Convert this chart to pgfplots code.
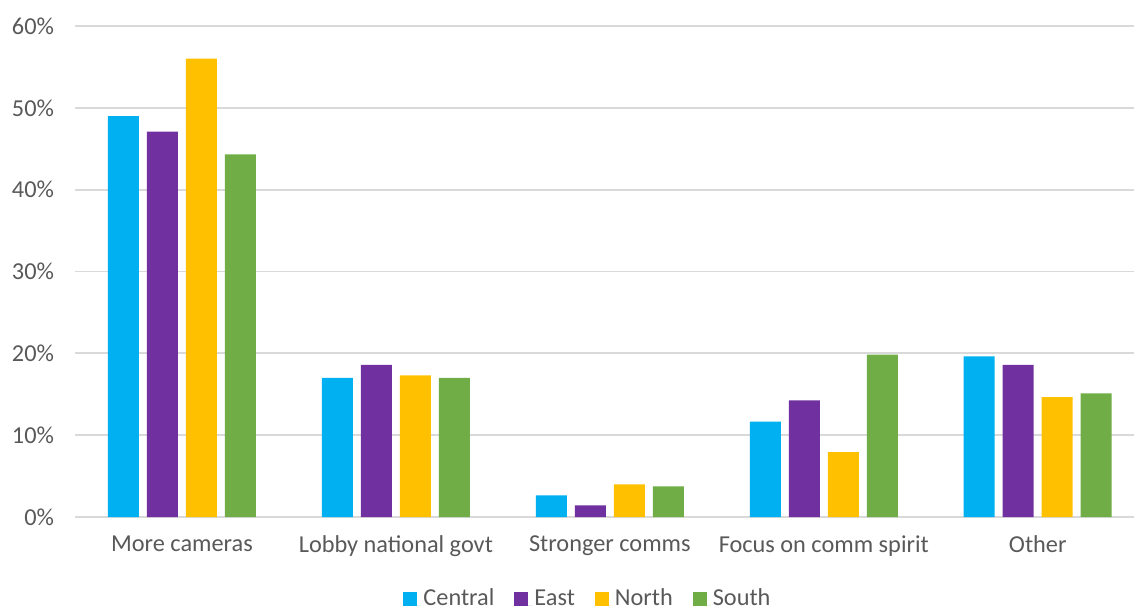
\documentclass[border=0pt]{standalone}
\usepackage{pgfplots}
\pgfplotsset{compat=1.18}
\usepackage{fontspec}
\setmainfont{Carlito}
\definecolor{cCentral}{RGB}{0,176,240}
\definecolor{cEast}{RGB}{112,48,160}
\definecolor{cNorth}{RGB}{255,192,0}
\definecolor{cSouth}{RGB}{112,173,71}
\definecolor{txt}{RGB}{89,89,89}
\definecolor{gridc}{RGB}{217,217,217}
\begin{document}
\begin{tikzpicture}
\path[use as bounding box] (-37.5bp,-47.5bp) rectangle (529.5bp,258.5bp);
\begin{axis}[
  at={(0,0)}, anchor=south west,
  scale only axis, width=529.5bp, height=245.5bp,
  ybar=4bp, bar width=15.5bp,
  xmin=-0.5, xmax=4.45, ymin=0, ymax=60,
  xtick={0,1,2,3,4},
  xticklabels={More cameras, Lobby national govt, Stronger comms, Focus on comm spirit, Other},
  ytick={0,10,20,30,40,50,60},
  yticklabels={0\%,10\%,20\%,30\%,40\%,50\%,60\%},
  axis line style={draw=none},
  ymajorgrids=true, xmajorgrids=false,
  grid style={draw=gridc, line width=0.9pt},
  major tick length=0pt,
  tick style={draw=none},
  yticklabel style={anchor=east, xshift=-7bp},
  xticklabel style={yshift=-6bp},
  ticklabel style={font=\fontsize{12.2}{14}\selectfont, text=txt},
  legend style={at={(0.4844,-0.162)}, anchor=center, draw=none, fill=none,
    font=\fontsize{12.2}{14}\selectfont, text=txt, legend columns=4,
    nodes={text depth=0pt, text height=8.5bp, anchor=base west, inner xsep=1bp},
    /tikz/every even column/.append style={column sep=9bp}},
  legend image code/.code={\fill[#1] (0bp,-0.5bp) rectangle (7bp,6.5bp); \path (0bp,0bp) -- (9bp,0bp);},
  clip=false,
]
\addplot[fill=cCentral, draw=none] coordinates {(0,49.0) (1,17.0) (2,2.65) (3,11.65) (4,19.63)};
\addplot[fill=cEast, draw=none] coordinates {(0,47.1) (1,18.6) (2,1.43) (3,14.26) (4,18.6)};
\addplot[fill=cNorth, draw=none] coordinates {(0,56.0) (1,17.3) (2,3.99) (3,7.94) (4,14.66)};
\addplot[fill=cSouth, draw=none] coordinates {(0,44.3) (1,17.0) (2,3.75) (3,19.84) (4,15.1)};
\legend{Central, East, North, South}
\end{axis}
\end{tikzpicture}
\end{document}
